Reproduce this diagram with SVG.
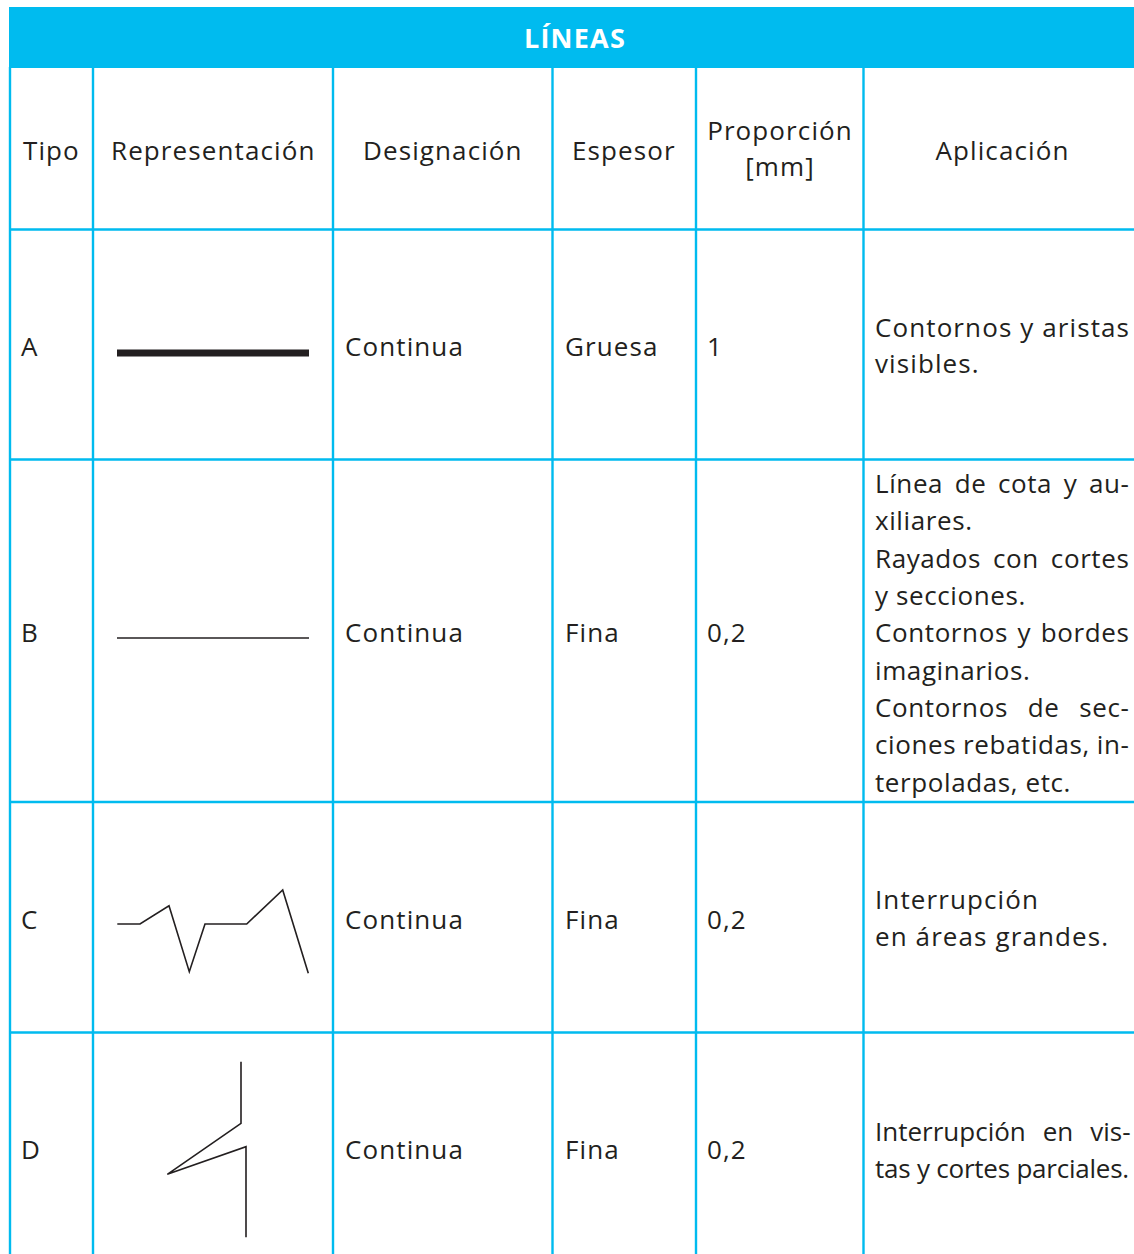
<svg xmlns="http://www.w3.org/2000/svg" width="1134" height="1254" viewBox="0 0 1134 1254">
<style>
.t{font-family:"Open Sans","Liberation Sans",sans-serif;font-size:26px;letter-spacing:1.1px;fill:#231f20;}
.b{letter-spacing:0.6px;}
.z{letter-spacing:0px;}
.n{letter-spacing:-0.2px;}
.h{font-family:"Open Sans","Liberation Sans",sans-serif;font-size:27px;font-weight:bold;letter-spacing:1.2px;fill:#ffffff;}
.g{stroke:#00bbef;stroke-width:2.4;fill:none;}
.d{stroke:#231f20;stroke-width:1.6;fill:none;stroke-linejoin:miter;}
</style>
<rect width="1134" height="1254" fill="#ffffff"/>
<g id="grid">
<rect x="9" y="7" width="1125" height="61" fill="#00bbef"/>
<path class="g" d="M10 67V1254M93 67V1254M333 67V1254M552.5 67V1254M696 67V1254M863.5 67V1254"/>
<path class="g" d="M9 229.5H1134M9 459.5H1134M9 802H1134M9 1032.5H1134"/>
</g>
<g id="title"><text class="h" x="575" y="48" text-anchor="middle">LÍNEAS</text></g>
<g id="header">
<text class="t" x="23" y="160">Tipo</text>
<text class="t" x="111" y="160">Representación</text>
<text class="t" x="363" y="160">Designación</text>
<text class="t" x="572" y="160">Espesor</text>
<text class="t" x="780" y="140" text-anchor="middle">Proporción</text>
<text class="t" x="780" y="176" text-anchor="middle">[mm]</text>
<text class="t" x="1002.5" y="160" text-anchor="middle">Aplicación</text>
</g>
<g id="rowA">
<text class="t" x="21" y="356">A</text>
<rect x="117" y="349.5" width="192" height="7" fill="#231f20"/>
<text class="t" x="345" y="356">Continua</text>
<text class="t" x="565" y="356">Gruesa</text>
<text class="t" x="707" y="356">1</text>
<text class="t" x="875" y="337">Contornos y aristas</text>
<text class="t" x="875" y="373">visibles.</text>
</g>
<g id="rowB">
<text class="t" x="21" y="642">B</text>
<path class="d" d="M117 638H309" stroke-width="1.3"/>
<text class="t" x="345" y="642">Continua</text>
<text class="t" x="565" y="642">Fina</text>
<text class="t" x="707" y="642">0,2</text>
<text class="t b" x="875" y="493" style="word-spacing:4.2px">Línea de cota y au-</text>
<text class="t b" x="875" y="530">xiliares.</text>
<text class="t b" x="875" y="567.5" style="word-spacing:4.6px">Rayados con cortes</text>
<text class="t b" x="875" y="605">y secciones.</text>
<text class="t b" x="875" y="642" style="word-spacing:2.3px">Contornos y bordes</text>
<text class="t b" x="875" y="680">imaginarios.</text>
<text class="t b" x="875" y="717" style="word-spacing:12.5px">Contornos de sec-</text>
<text class="t b" x="875" y="754" style="word-spacing:-0.5px">ciones rebatidas, in-</text>
<text class="t b" x="875" y="792">terpoladas, etc.</text>
</g>
<g id="rowC">
<text class="t" x="21" y="929">C</text>
<path class="d" d="M117.3 924H140L169 905.7L189.3 971.7L205 924H246.7L282.7 890L308.3 973.3"/>
<text class="t" x="345" y="929">Continua</text>
<text class="t" x="565" y="929">Fina</text>
<text class="t" x="707" y="929">0,2</text>
<text class="t" x="875" y="909">Interrupción</text>
<text class="t" x="875" y="946">en áreas grandes.</text>
</g>
<g id="rowD">
<text class="t" x="21" y="1159">D</text>
<path class="d" d="M241 1061.7V1123.3L167.3 1174.3L246 1146.7V1237.3"/>
<text class="t" x="345" y="1159">Continua</text>
<text class="t" x="565" y="1159">Fina</text>
<text class="t" x="707" y="1159">0,2</text>
<text class="t z" x="875" y="1141" style="word-spacing:10.2px">Interrupción en vis-</text>
<text class="t n" x="875" y="1178" textLength="254" lengthAdjust="spacing">tas y cortes parciales.</text>
</g>
</svg>
